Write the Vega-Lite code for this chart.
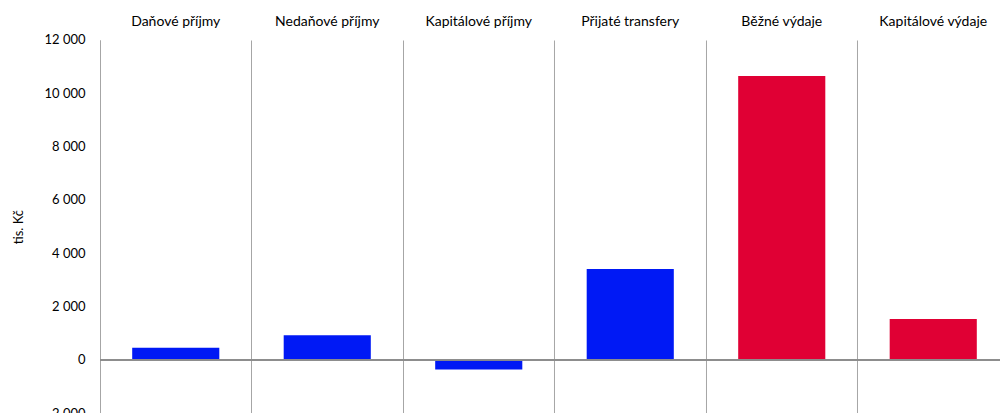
{
  "$schema": "https://vega.github.io/schema/vega-lite/v6.json",
  "width": 909,
  "height": 373.3,
  "autosize": {"type": "none"},
  "padding": {"left": 100, "top": 40, "right": 0, "bottom": 0},
  "background": "white",
  "config": {
    "view": {"stroke": null},
    "font": "Lato"
  },
  "data": {
    "values": [
      {"polozka": "Daňové příjmy", "typ": "příjmy", "hodnota": 460},
      {"polozka": "Nedaňové příjmy", "typ": "příjmy", "hodnota": 930},
      {"polozka": "Kapitálové příjmy", "typ": "příjmy", "hodnota": -360},
      {"polozka": "Přijaté transfery", "typ": "příjmy", "hodnota": 3410},
      {"polozka": "Běžné výdaje", "typ": "výdaje", "hodnota": 10650},
      {"polozka": "Kapitálové výdaje", "typ": "výdaje", "hodnota": 1540}
    ]
  },
  "layer": [
    {
      "mark": {"type": "bar", "width": {"band": 0.575}},
      "encoding": {
        "x": {
          "field": "polozka",
          "type": "nominal",
          "sort": null,
          "scale": {"paddingInner": 0, "paddingOuter": 0},
          "axis": {
            "orient": "top",
            "title": null,
            "domain": false,
            "ticks": false,
            "labelAngle": 0,
            "labelFontSize": 14,
            "labelColor": "#000000",
            "labelPadding": 11,
            "grid": true,
            "bandPosition": 0,
            "gridColor": "#a6a6a6",
            "gridWidth": 1,
            "gridOpacity": 1
          }
        },
        "y": {
          "field": "hodnota",
          "type": "quantitative",
          "scale": {"domain": [-2000, 12000], "nice": false, "zero": false},
          "axis": {
            "title": "tis. Kč",
            "titleFontSize": 13,
            "titleFontWeight": "normal",
            "titleColor": "#000000",
            "titlePadding": 18,
            "values": [-2000, 0, 2000, 4000, 6000, 8000, 10000, 12000],
            "labelExpr": "replace(format(datum.value, ','), ',', ' ')",
            "labelFontSize": 13,
            "labelColor": "#000000",
            "labelPadding": 15,
            "ticks": false,
            "grid": false,
            "domain": true,
            "domainColor": "#a6a6a6",
            "domainWidth": 1
          }
        },
        "color": {
          "field": "typ",
          "type": "nominal",
          "scale": {"domain": ["příjmy", "výdaje"], "range": ["#0019f5", "#e00034"]},
          "legend": null
        }
      }
    },
    {
      "mark": {"type": "rule", "color": "#8c8c8c", "strokeWidth": 1},
      "encoding": {"y": {"datum": 0}}
    }
  ]
}
